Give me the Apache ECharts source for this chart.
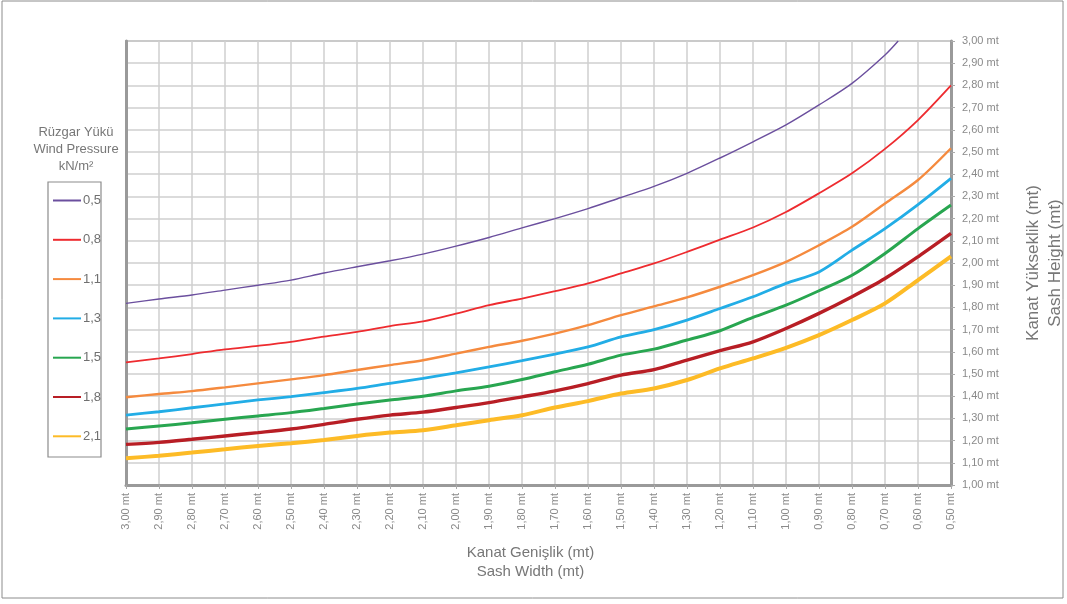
<!DOCTYPE html>
<html>
<head>
<meta charset="utf-8">
<script src="https://cdn.jsdelivr.net/npm/echarts@6/dist/echarts.min.js"></script>
<style>
	html, body { margin: 0; padding: 0; background: #fff; }
	#chart { width: 1067px; height: 604px; }
</style>
</head>
<body>
<div id="chart"></div>
<script>
// Kanat genişliği (mt) - x ekseni
const widths = [3.0, 2.9, 2.8, 2.7, 2.6, 2.5, 2.4, 2.3, 2.2, 2.1, 2.0, 1.9, 1.8, 1.7, 1.6, 1.5, 1.4, 1.3, 1.2, 1.1, 1.0, 0.9, 0.8, 0.7, 0.6, 0.5]

// rüzgar yükü kN/m2
const pressures = ['0,5', '0,8', '1,1', '1,3', '1,5', '1,8', '2,1']
const colors = ['#6b4f9e', '#ee2b2f', '#f58a3e', '#22ade6', '#28a650', '#b81e25', '#fdbb26']
const lineWidths = [1.4, 1.8, 2.4, 2.8, 3, 3.4, 4]

// kanat yüksekliği (mt)
const h05 = [1.818, 1.838, 1.856, 1.878, 1.900, 1.923, 1.955, 1.983, 2.010, 2.040, 2.076, 2.115, 2.158, 2.200, 2.245, 2.295, 2.345, 2.404, 2.473, 2.546, 2.622, 2.712, 2.809, 2.937]
const h05TailW = 0.66
const h05TailH = 3.0
const h08 = [1.552, 1.570, 1.590, 1.611, 1.627, 1.645, 1.668, 1.690, 1.716, 1.737, 1.772, 1.810, 1.840, 1.873, 1.908, 1.953, 1.998, 2.050, 2.105, 2.160, 2.230, 2.314, 2.404, 2.514, 2.644, 2.800]
const h11 = [1.395, 1.410, 1.423, 1.440, 1.458, 1.476, 1.495, 1.518, 1.540, 1.562, 1.592, 1.622, 1.650, 1.682, 1.720, 1.765, 1.805, 1.845, 1.893, 1.945, 2.005, 2.080, 2.163, 2.268, 2.374, 2.517]
const h13 = [1.315, 1.330, 1.348, 1.365, 1.383, 1.398, 1.416, 1.435, 1.458, 1.480, 1.505, 1.532, 1.560, 1.590, 1.622, 1.667, 1.700, 1.743, 1.795, 1.848, 1.908, 1.960, 2.058, 2.155, 2.263, 2.381]
const h15 = [1.252, 1.266, 1.280, 1.296, 1.311, 1.326, 1.345, 1.365, 1.383, 1.400, 1.424, 1.445, 1.475, 1.510, 1.544, 1.585, 1.612, 1.653, 1.695, 1.755, 1.810, 1.875, 1.945, 2.043, 2.155, 2.261]
const h18 = [1.183, 1.192, 1.206, 1.221, 1.236, 1.252, 1.273, 1.296, 1.315, 1.328, 1.349, 1.371, 1.397, 1.424, 1.457, 1.495, 1.520, 1.563, 1.605, 1.645, 1.705, 1.773, 1.848, 1.930, 2.028, 2.133]
const h21 = [1.120, 1.132, 1.146, 1.161, 1.176, 1.188, 1.203, 1.221, 1.236, 1.247, 1.269, 1.292, 1.314, 1.349, 1.378, 1.412, 1.435, 1.473, 1.525, 1.570, 1.618, 1.675, 1.743, 1.818, 1.923, 2.030]

const FONT = 'Liberation Sans, Arial, sans-serif'
const fmt = (v) => v.toFixed(2).replace('.', ',') + ' mt'
const pairs = (arr) => arr.map((h, i) => [widths[i], h])

const heights = [h05, h08, h11, h13, h15, h18, h21]
const seriesData = heights.map((arr) => pairs(arr))
seriesData[0].push([h05TailW, h05TailH])

const chart = echarts.init(document.getElementById('chart'), null, { renderer: 'canvas' })

const option = {
	backgroundColor: '#fff',
	animation: false,
	textStyle: { fontFamily: FONT },
	grid: {
		left: 126,
		right: 116,
		top: 41,
		bottom: 119,
		outerBoundsMode: 'none',
		containLabel: false,
		show: true,
		borderColor: '#bdbdbd',
		borderWidth: 2,
	},
	legend: {
		orient: 'vertical',
		left: 47,
		top: 189,
		itemWidth: 28,
		itemHeight: 14,
		itemGap: 26.3,
		itemStyle: { opacity: 0 },
		textStyle: { color: '#707070', fontSize: 13, fontFamily: FONT, padding: [0, 0, 0, -3] },
		data: pressures,
		selectedMode: false,
	},
	xAxis: {
		type: 'value',
		min: 0.5,
		max: 3.0,
		interval: 0.1,
		inverse: true,
		name: 'Kanat Genişlik (mt)\nSash Width (mt)',
		nameLocation: 'middle',
		nameGap: 58,
		nameTextStyle: { color: '#777', fontSize: 15, lineHeight: 19, fontFamily: FONT, padding: [0, 16, 0, 0] },
		axisLine: { show: true, lineStyle: { color: '#9a9a9a', width: 3 } },
		axisTick: { show: true, length: 4, lineStyle: { color: '#aaa' } },
		axisLabel: { rotate: 90, margin: 8, color: '#8a8a8a', fontSize: 11, formatter: fmt },
		splitLine: { show: true, lineStyle: { color: '#cfcfcf', width: 1.5 } },
	},
	yAxis: [
		{
			type: 'value',
			position: 'right',
			min: 1.0,
			max: 3.0,
			interval: 0.1,
			name: 'Kanat Yükseklik (mt)\nSash Height (mt)',
			nameLocation: 'middle',
			nameRotate: 90,
			nameGap: 71,
			nameTextStyle: { color: '#777', fontSize: 17, lineHeight: 22, fontFamily: FONT },
			axisLine: { show: true, lineStyle: { color: '#9a9a9a', width: 3 } },
			axisTick: { show: true, length: 4, lineStyle: { color: '#aaa' } },
			axisLabel: { margin: 11, color: '#8a8a8a', fontSize: 11, formatter: fmt },
			splitLine: { show: true, lineStyle: { color: '#cfcfcf', width: 1.5 } },
		},
		{
			type: 'value',
			position: 'left',
			min: 1.0,
			max: 3.0,
			interval: 0.1,
			axisLine: { show: true, lineStyle: { color: '#9a9a9a', width: 3 } },
			axisTick: { show: false },
			axisLabel: { show: false },
			splitLine: { show: false },
		},
	],
	series: pressures.map((name, i) => ({
		name,
		type: 'line',
		yAxisIndex: 0,
		data: seriesData[i],
		showSymbol: false,
		symbol: 'none',
		smooth: 0.3,
		clip: true,
		color: colors[i],
		lineStyle: { color: colors[i], width: lineWidths[i] },
		z: 10 + i,
	})),
	graphic: [
		{
			type: 'rect',
			shape: { x: 2, y: 1, width: 1061, height: 597 },
			style: { fill: 'none', stroke: '#8c8c8c', lineWidth: 1 },
			silent: true,
		},
		{
			type: 'rect',
			shape: { x: 48, y: 182, width: 53, height: 275 },
			style: { fill: 'none', stroke: '#8c8c8c', lineWidth: 1.2 },
			silent: true,
		},
		{
			type: 'text',
			x: 76,
			y: 124,
			style: {
				text: 'Rüzgar Yükü\nWind Pressure\nkN/m²',
				align: 'center',
				fill: '#777',
				fontSize: 13,
				lineHeight: 17,
				fontFamily: FONT,
			},
			silent: true,
		},
	],
}

chart.setOption(option)
</script>
</body>
</html>
